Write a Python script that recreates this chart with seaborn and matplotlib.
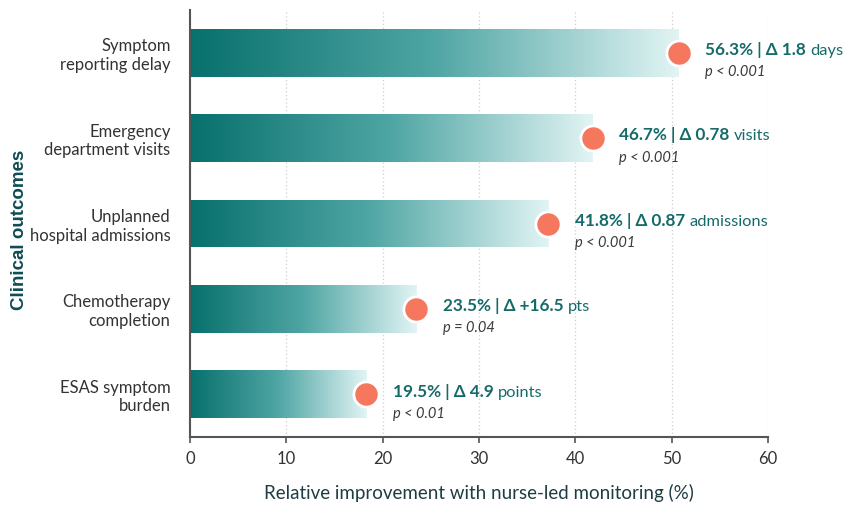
import numpy as np
import pandas as pd
import matplotlib.pyplot as plt
import seaborn as sns
from matplotlib.colors import LinearSegmentedColormap

# Datos
outcomes = [
    "Symptom\nreporting delay",
    "Emergency\ndepartment visits",
    "Unplanned\nhospital admissions",
    "Chemotherapy\ncompletion",
    "ESAS symptom\nburden",
]
bar_length = [50.7, 41.8, 37.2, 23.5, 18.3]
pct_labels = ["56.3%", "46.7%", "41.8%", "23.5%", "19.5%"]
delta_values = ["1.8", "0.78", "0.87", "+16.5", "4.9"]
delta_units = ["days", "visits", "admissions", "pts", "points"]
p_values = ["p < 0.001", "p < 0.001", "p < 0.001", "p = 0.04", "p < 0.01"]
x_ticks = [0, 10, 20, 30, 40, 50, 60]

df = pd.DataFrame({"outcome": outcomes, "value": bar_length})

teal_text = "#156b69"
coral = "#f4775e"
grad_cmap = LinearSegmentedColormap.from_list("teal_grad", ["#08706d", "#4fa6a4", "#e2f4f4"])

sns.set_theme(style="white")
plt.rcParams["font.family"] = ["Lato", "DejaVu Sans"]

fig, ax = plt.subplots(figsize=(8.46, 5.08), dpi=100)
fig.subplots_adjust(left=0.2246, right=0.908, bottom=0.1398, top=0.98)

# Barras base (luego se rellenan con degradado)
sns.barplot(data=df, x="value", y="outcome", color="#08706d", width=0.56, ax=ax, zorder=2)

grad = np.linspace(0, 1, 256).reshape(1, -1)
for patch in ax.patches:
    x0, y0 = patch.get_x(), patch.get_y()
    w, h = patch.get_width(), patch.get_height()
    patch.set_facecolor("none")
    patch.set_edgecolor("none")
    img = ax.imshow(grad, extent=[x0, x0 + w, y0 + h, y0], cmap=grad_cmap,
                    aspect="auto", interpolation="bicubic", zorder=2)
    img.set_clip_path(patch)

ax.set_xlim(0, 60)
ax.set_ylim(4.5, -0.5)

# Circulos al final de cada barra
sns.scatterplot(data=df, x="value", y="outcome", s=330, color=coral,
                edgecolor="white", linewidth=2, ax=ax, zorder=5, clip_on=False)

# Etiquetas de cada resultado
for i in range(len(df)):
    t = ax.annotate(f"{pct_labels[i]} | \u0394 {delta_values[i]}", xy=(bar_length[i], i),
                    xytext=(19, 2), textcoords="offset points", fontsize=12.3,
                    fontweight="bold", color=teal_text, va="center", ha="left")
    ax.annotate(delta_units[i], xy=(1, 0), xycoords=t, xytext=(3, 0),
                textcoords="offset points", fontsize=11.8, color=teal_text,
                va="bottom", ha="left")
    ax.annotate(p_values[i], xy=(bar_length[i], i), xytext=(19, -14),
                textcoords="offset points", fontsize=10.5, style="italic",
                color="#3a3a3a", va="center", ha="left")

# Ejes y estilo
ax.set_xticks(x_ticks)
ax.grid(axis="x", linestyle=(0, (1, 2)), color="#cfcfcf", linewidth=0.9, zorder=0)
ax.set_axisbelow(True)
sns.despine(ax=ax, top=True, right=True)
for side in ["left", "bottom"]:
    ax.spines[side].set_color("#555555")
    ax.spines[side].set_linewidth(1.5)

ax.tick_params(axis="x", length=4, width=1.2, color="#555555", labelsize=12,
               labelcolor="#333333", pad=6, bottom=True)
ax.tick_params(axis="y", length=0, labelsize=12, labelcolor="#333333", pad=14)

ax.set_xlabel("Relative improvement with nurse-led monitoring (%)", fontsize=13.5,
              color="#1e3d42", labelpad=12)
ax.set_ylabel("Clinical outcomes", fontsize=13.5, fontweight="bold", color="#0f4c55",
              family=["Liberation Sans", "DejaVu Sans"])
ax.yaxis.set_label_coords(-0.28, 0.485)

plt.savefig("out.png", dpi=100)
